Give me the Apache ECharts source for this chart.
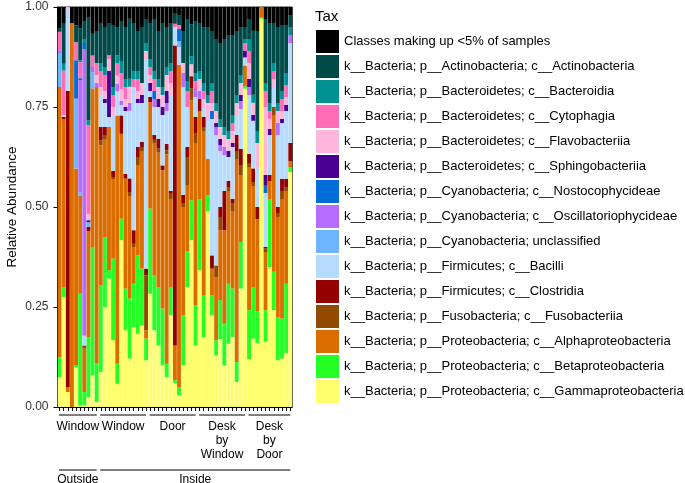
<!DOCTYPE html>
<html>
<head>
<meta charset="utf-8">
<script src="https://cdn.jsdelivr.net/npm/echarts@6/dist/echarts.min.js"></script>
<style>
  html, body { margin: 0; padding: 0; background: #fff; }
  #chart { width: 685px; height: 483px; }
</style>
</head>
<body>
<div id="chart"></div>
<script>
// 57 samples, grouped by location / position
var groupNames = ['Window', 'Window', 'Door', 'Desk\nby\nWindow', 'Desk\nby\nDoor'];
var groupSizes = [10, 12, 12, 12, 11];
var sideNames = ['Outside', 'Inside'];
var sideSizes = [10, 47];

var samples = [];
for (var i = 0; i < 57; i++) samples.push('S' + (i + 1));

var yTicks = [0, 0.25, 0.5, 0.75, 1];

// relative abundance per class (bottom of stack first)
var gamma = [0.075,0.275,0.0375,0,0.1,0.004,0.004,0.025,0.079,0.0125,
  0.0875,0.25,0.321,0.167,0.058,0.417,0.192,0.121,0.2,0.183,
  0.204,0.117,0.283,0.192,0.154,0.104,0.075,0.229,0.06,0.029,
  0.104,0.3,0.417,0.154,0.342,0.175,0.49,0.229,0.129,0.17,
  0.104,0.158,0.175,0.0625,0.296,0.796,0.119,0.171,0.16,0.971,
  0.163,0.35,0.242,0.117,0.121,0.135,0.5875];
var beta = [0.05,0.025,0,0,0.005,0.279,0.0335,0.15,0.321,0.0975,
  0.2165,0.175,0.021,0.204,0.05,0.054,0.104,0.15,0.108,0.196,
  0.142,0.054,0.213,0.137,0.146,0.142,0.033,0.071,0.007,0.021,
  0.125,0.09,0.1,0.1,0.178,0.103,0.04,0.05,0.038,0.097,
  0.104,0.15,0.121,0.05,0.1165,0.006,0.123,0.129,0.08,0.004,
  0.079,0.17,0.096,0.108,0.1,0.173,0.0125];
var alpha = [0.675,0.42,0.0125,0.96,0.491,0.246,0.1085,0.265,0.396,0.69,
  0.35,0.245,0.358,0.199,0.621,0.212,0.275,0.2565,0.092,0.226,
  0.294,0.021,0.2665,0.331,0.336,0.346,0.524,0.22,0.087,0.805,
  0.271,0.165,0.25,0.406,0.22,0.412,0.09,0.067,0.158,0.175,
  0.234,0.232,0.194,0.5075,0.1675,0.052,0.358,0.2525,0.23,0.025,
  0.1455,0.045,0.392,0.25,0.299,0.232,0.015];
var fuso = [0,0,0,0,0,0,0.008,0,0,0,
  0.013,0.01,0,0.005,0,0,0,0.01,0.008,0.02,
  0.01,0.137,0,0.008,0.01,0,0.01,0.013,0,0,
  0.01,0.07,0.03,0.025,0,0.01,0,0,0.029,0.033,
  0,0.01,0.02,0.02,0.025,0,0.008,0.01,0,0,
  0.0085,0,0.02,0.01,0.02,0.01,0];
var clost = [0,0.005,0.74,0,0,0,0,0.01,0,0,
  0.033,0.02,0,0.015,0,0.046,0.012,0.034,0.034,0.025,
  0.0125,0.017,0.0125,0.012,0.024,0.012,0.016,0.007,0.75,0,
  0.02,0.025,0.03,0.04,0.03,0.025,0,0.033,0,0.025,
  0.098,0.015,0.01,0.04,0.04,0,0.025,0.034,0.03,0,
  0.004,0.015,0,0.015,0.03,0.02,0.045];
var bacilli = [0,0.004,0.205,0,0,0,0.025,0,0,0,
  0.08,0.06,0.025,0.14,0.06,0.026,0.157,0.169,0.358,0.11,
  0.0975,0.524,0.015,0.07,0.08,0.126,0.082,0.24,0.046,0.045,
  0.27,0.1,0,0.05,0,0.025,0.1,0.341,0.326,0.14,
  0.09,0.06,0.13,0.05,0.1,0.02,0.147,0.119,0.1,0,
  0.135,0.1,0.05,0.18,0.14,0.17,0.25];
var cyanoUnc = [0.083,0,0,0,0.175,0.008,0,0.012,0.0415,0,
  0,0,0,0,0,0,0,0,0,0,
  0,0,0,0,0,0,0,0,0,0.015,
  0,0,0,0,0,0,0,0,0,0,
  0,0,0,0,0,0,0,0,0,0,
  0,0,0,0,0,0,0];
var oscill = [0.009,0,0,0,0,0.28,0.716,0,0.0125,0.01,
  0,0,0,0,0.02,0.01,0,0.02,0,0,
  0,0,0,0.02,0,0,0.02,0,0,0,
  0.035,0,0,0.02,0.02,0,0,0,0.02,0.015,
  0.02,0,0,0,0.02,0,0.02,0,0,0,
  0,0,0,0.03,0,0,0.02];
var nostoc = [0,0,0,0,0.096,0.005,0.015,0,0,0,
  0,0,0,0,0,0,0,0,0,0,
  0,0,0,0.02,0,0,0,0,0,0.03,
  0,0,0,0,0,0,0,0.02,0,0,
  0,0,0,0,0,0,0,0,0,0,
  0.02,0,0,0,0,0,0];
var sphingo = [0,0,0,0,0,0,0,0.005,0,0,
  0,0.01,0.115,0,0,0,0.01,0,0,0.01,
  0.02,0,0.02,0,0.02,0.02,0.03,0,0,0,
  0,0,0,0,0,0,0,0,0.01,0.015,
  0,0.015,0.01,0,0.015,0.016,0.02,0.015,0,0,
  0.025,0.015,0,0,0.01,0.015,0];
var flavo = [0,0,0.005,0,0,0,0,0.016,0,0.02,
  0.02,0.02,0.03,0.02,0.02,0.03,0.02,0.04,0,0.02,
  0.03,0.02,0.02,0,0.03,0.03,0.04,0.03,0,0,
  0.025,0,0.03,0,0.03,0.02,0.04,0.02,0.03,0.03,
  0.03,0.03,0.03,0.03,0.03,0,0.04,0.03,0.06,0,
  0.17,0.025,0.02,0.03,0.02,0.02,0];
var cytoph = [0.046,0.112,0,0,0.045,0.04,0,0.221,0.029,0.03,
  0.04,0.04,0.01,0.03,0.03,0.04,0.03,0,0.02,0.03,
  0,0,0.02,0.03,0,0,0,0.03,0.008,0.01,
  0,0.04,0,0.02,0,0.02,0,0.03,0,0,
  0,0,0.02,0,0,0.02,0.03,0,0,0,
  0.04,0.02,0.02,0,0.03,0.03,0];
var bacteroid = [0,0.017,0,0,0,0.005,0.01,0.013,0,0,
  0.02,0.02,0,0.02,0.02,0.03,0.02,0.02,0.02,0.02,
  0,0.02,0.02,0.02,0.02,0.02,0.02,0.02,0,0,
  0,0.025,0.02,0.02,0.02,0.02,0.02,0.02,0.02,0.02,
  0.02,0.02,0.02,0.02,0.02,0.01,0.03,0.02,0.03,0,
  0.02,0.02,0.02,0.02,0.02,0.03,0.02];
var actino = [0.008,0.1,0,0,0.042,0.08,0.045,0.258,0.054,0.08,
  0.1,0.1,0.08,0.155,0.071,0.1,0.13,0.15,0.12,0.1,
  0.14,0.06,0.09,0.13,0.12,0.16,0.1,0.1,0.025,0.025,
  0.08,0.155,0.08,0.13,0.12,0.14,0.17,0.13,0.16,0.19,
  0.22,0.24,0.2,0.16,0.12,0.03,0.05,0.16,0.25,0,
  0.16,0.2,0.1,0.19,0.165,0.12,0.03];
var minor = [0.054,0.042,0,0.04,0.046,0.053,0.035,0.025,0.067,0.06,
  0.04,0.05,0.04,0.045,0.05,0.035,0.05,0.03,0.04,0.06,
  0.05,0.03,0.04,0.03,0.06,0.04,0.05,0.04,0.017,0.02,
  0.06,0.03,0.043,0.035,0.04,0.05,0.05,0.06,0.08,0.09,
  0.08,0.07,0.07,0.06,0.05,0.05,0.03,0.06,0.06,0,
  0.03,0.04,0.04,0.05,0.045,0.045,0.02];

var taxa = [
  ['k__Bacteria; p__Proteobacteria; c__Gammaproteobacteria', gamma, '#ffff6d'],
  ['k__Bacteria; p__Proteobacteria; c__Betaproteobacteria', beta, '#24ff24'],
  ['k__Bacteria; p__Proteobacteria; c__Alphaproteobacteria', alpha, '#db6d00'],
  ['k__Bacteria; p__Fusobacteria; c__Fusobacteriia', fuso, '#924900'],
  ['k__Bacteria; p__Firmicutes; c__Clostridia', clost, '#920000'],
  ['k__Bacteria; p__Firmicutes; c__Bacilli', bacilli, '#b6dbff'],
  ['k__Bacteria; p__Cyanobacteria; unclassified', cyanoUnc, '#6db6ff'],
  ['k__Bacteria; p__Cyanobacteria; c__Oscillatoriophycideae', oscill, '#b66dff'],
  ['k__Bacteria; p__Cyanobacteria; c__Nostocophycideae', nostoc, '#006ddb'],
  ['k__Bacteria; p__Bacteroidetes; c__Sphingobacteriia', sphingo, '#490092'],
  ['k__Bacteria; p__Bacteroidetes; c__Flavobacteriia', flavo, '#ffb6db'],
  ['k__Bacteria; p__Bacteroidetes; c__Cytophagia', cytoph, '#ff6db6'],
  ['k__Bacteria; p__Bacteroidetes; c__Bacteroidia', bacteroid, '#009292'],
  ['k__Bacteria; p__Actinobacteria; c__Actinobacteria', actino, '#004949'],
  ['Classes making up <5% of samples', minor, '#000000']
];

var font = '"Liberation Sans", Arial, Helvetica, sans-serif';
var chart = echarts.init(document.getElementById('chart'));

var series = taxa.map(function (t) {
  return {
    name: t[0],
    type: 'bar',
    stack: 'all',
    data: t[1],
    barCategoryGap: '6%',
    itemStyle: { color: t[2] },
    emphasis: { disabled: true }
  };
});

var option = {
  animation: false,
  textStyle: { fontFamily: font },
  title: {
    text: 'Tax', left: 315, top: 9, padding: 0,
    textStyle: { fontSize: 15, fontWeight: 'normal', color: '#000', fontFamily: font }
  },
  legend: {
    orient: 'vertical', left: 316, top: 30, padding: 0,
    itemWidth: 23, itemHeight: 23, itemGap: 2,
    icon: 'rect', selectedMode: false,
    data: taxa.map(function (t) { return t[0]; }).reverse(),
    textStyle: { fontSize: 13, color: '#000', fontFamily: font }
  },
  grid: { left: 57.5, right: 392.7, top: 7, bottom: 76, show: true, borderColor: '#222', borderWidth: 1 },
  xAxis: {
    type: 'category', data: samples,
    axisLine: { lineStyle: { color: '#000', width: 1 } },
    axisTick: { show: true, alignWithLabel: true, interval: 0, length: 4, lineStyle: { color: '#000', width: 1 } },
    axisLabel: { show: true, interval: 0, formatter: function () { return ''; } }
  },
  yAxis: {
    type: 'value', min: yTicks[0], max: yTicks[yTicks.length - 1], interval: 0.25,
    name: 'Relative Abundance', nameLocation: 'middle', nameGap: 38,
    nameTextStyle: { fontSize: 13.5, color: '#000', fontFamily: font },
    axisLine: { show: true, lineStyle: { color: '#000' } },
    axisTick: { show: true, length: 4, lineStyle: { color: '#000', width: 1 } },
    splitLine: { show: false },
    axisLabel: {
      fontSize: 12, color: '#333', margin: 9,
      formatter: function (v) { return v.toFixed(2); }
    }
  },
  series: series
};
chart.setOption(option);

// group annotations under the x axis
function groupGraphics() {
  var els = [];
  var px = function (i) { return chart.convertToPixel({ xAxisIndex: 0 }, samples[i]); };
  var bw = px(1) - px(0);
  var base = chart.convertToPixel({ yAxisIndex: 0 }, 0);
  function addRow(names, sizes, lineY, textY) {
    var start = 0;
    names.forEach(function (nm, g) {
      var n = sizes[g];
      var x0 = px(start) - bw / 2 + 1.5;
      var x1 = px(start + n - 1) + bw / 2 - 2;
      els.push({ type: 'line', shape: { x1: x0, y1: lineY, x2: x1, y2: lineY },
        style: { stroke: '#000', lineWidth: 1.2 } });
      els.push({ type: 'text', x: (x0 + x1) / 2, y: textY,
        style: { text: nm, align: 'center', verticalAlign: 'top', fontSize: 12,
          lineHeight: 14, fill: '#000', fontFamily: font } });
      start += n;
    });
  }
  addRow(groupNames, groupSizes, base + 8, base + 13);
  addRow(sideNames, sideSizes, base + 63, base + 66);
  return els;
}
chart.setOption({ graphic: groupGraphics() });
</script>
</body>
</html>
